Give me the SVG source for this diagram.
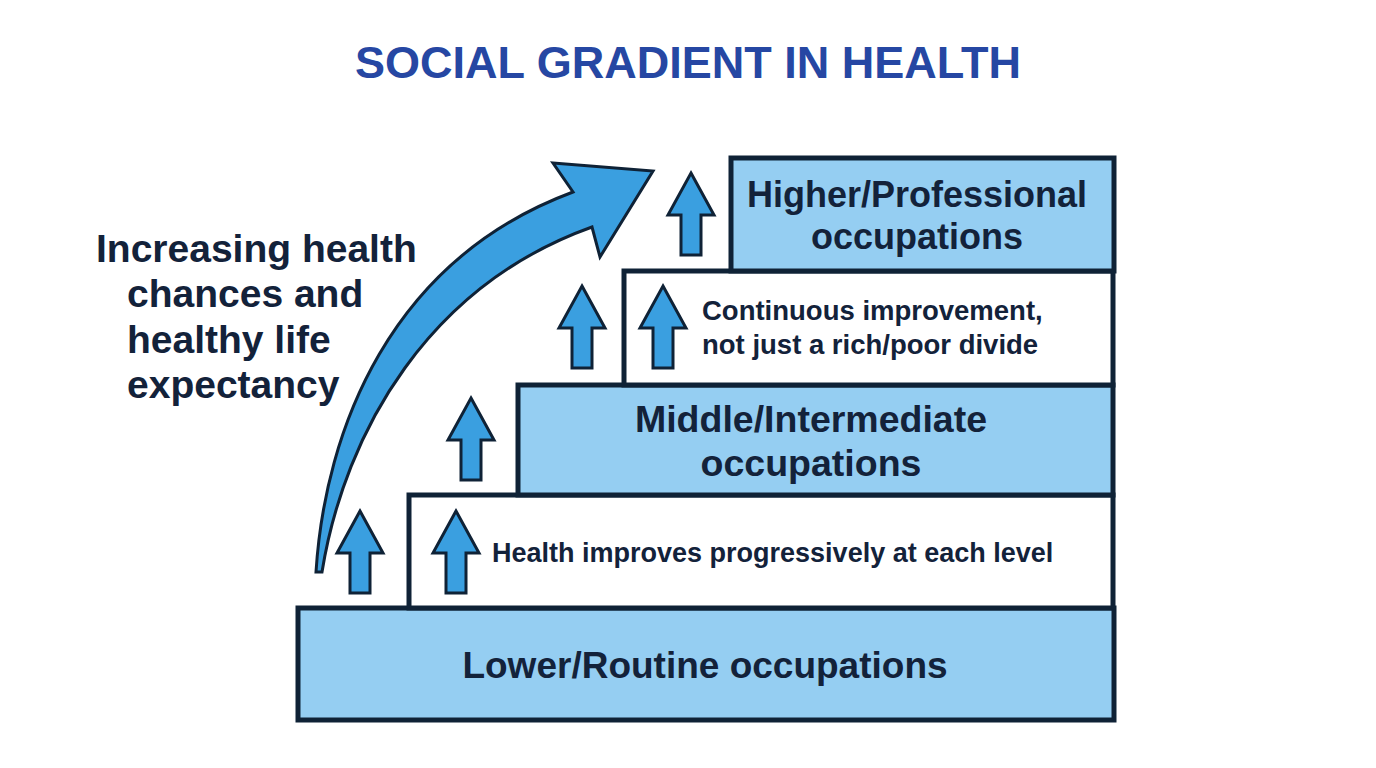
<svg xmlns="http://www.w3.org/2000/svg" width="1376" height="768" viewBox="0 0 1376 768">
<style>
.box{stroke:#0f2236;stroke-width:5;stroke-linejoin:miter}
.blue{fill:#95cef2}
.white{fill:#ffffff}
.arr{fill:#3a9fe0;stroke:#0f2236;stroke-width:3;stroke-linejoin:miter}
.t{font-family:"Liberation Sans",Arial,sans-serif;font-weight:bold;fill:#13223a}
.title{font-family:"Liberation Sans",Arial,sans-serif;font-weight:bold;fill:#2647a3;font-size:45px}
</style>
<defs>
<path id="up" d="M0,0 L23,42 L10,42 L10,82 L-10,82 L-10,42 L-23,42 Z"/>
</defs>
<rect width="1376" height="768" fill="#ffffff"/>
<text class="title" x="688" y="78" text-anchor="middle">SOCIAL GRADIENT IN HEALTH</text>
<g id="label-left" class="t" font-size="39">
<text x="96" y="262">Increasing health</text>
<text x="127" y="307">chances and</text>
<text x="127" y="353">healthy life</text>
<text x="127" y="398">expectancy</text>
</g>
<g id="lower">
<rect class="box blue" x="298" y="608" width="816" height="112"/>
<text class="t" x="705" y="678" font-size="37" text-anchor="middle">Lower/Routine occupations</text>
</g>
<g id="step-progress">
<rect class="box white" x="409" y="495" width="704" height="113"/>
<text class="t" x="492" y="562" font-size="27">Health improves progressively at each level</text>
</g>
<g id="middle">
<rect class="box blue" x="518" y="385" width="595" height="110"/>
<text class="t" x="811" y="432" font-size="37.5" text-anchor="middle">Middle/Intermediate</text>
<text class="t" x="811" y="476" font-size="37.5" text-anchor="middle">occupations</text>
</g>
<g id="step-continuous">
<rect class="box white" x="624" y="271" width="489" height="114"/>
<text class="t" x="702" y="320" font-size="27.5">Continuous improvement,</text>
<text class="t" x="702" y="354" font-size="27.5">not just a rich/poor divide</text>
</g>
<g id="higher">
<rect class="box blue" x="731" y="158" width="383" height="113"/>
<text class="t" x="917" y="207" font-size="36" text-anchor="middle">Higher/Professional</text>
<text class="t" x="917" y="249" font-size="36" text-anchor="middle">occupations</text>
</g>
<g id="connectors">
<path class="arr" d="M316,572 C325,430 390,260 573,192 L553,163 L653,171 L600,257 L592,227 C430,285 345,430 322,572 Z"/>
<use href="#up" class="arr" x="360" y="511"/>
<use href="#up" class="arr" x="456" y="511"/>
<use href="#up" class="arr" x="471" y="398"/>
<use href="#up" class="arr" x="582" y="286"/>
<use href="#up" class="arr" x="663" y="286"/>
<use href="#up" class="arr" x="691" y="173"/>
</g>
</svg>
